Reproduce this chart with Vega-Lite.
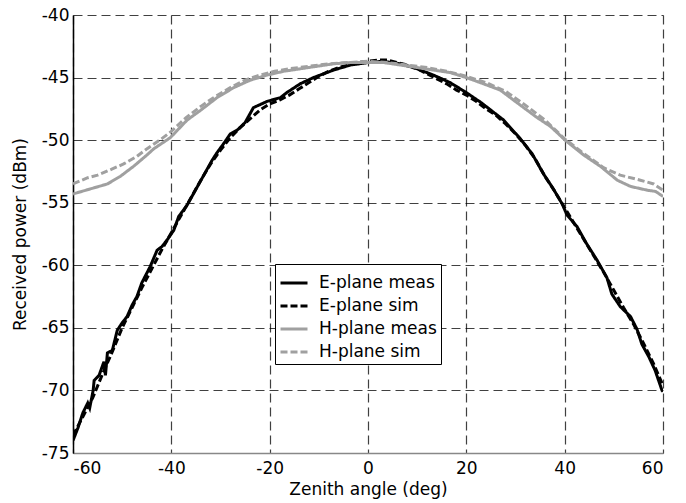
{
  "$schema": "https://vega.github.io/schema/vega-lite/v6.json",
  "width": 590,
  "height": 438,
  "autosize": {"type": "none"},
  "padding": {"left": 73, "top": 15, "right": 23, "bottom": 50},
  "background": "white",
  "config": {
    "view": {"stroke": null},
    "font": "DejaVu Sans"
  },
  "datasets": {
    "curves": [
      {"s": "E-plane meas", "x": -60, "y": -74.0},
      {"s": "E-plane meas", "x": -59, "y": -73.0},
      {"s": "E-plane meas", "x": -58, "y": -71.8},
      {"s": "E-plane meas", "x": -57, "y": -71.0},
      {"s": "E-plane meas", "x": -56.6, "y": -71.4},
      {"s": "E-plane meas", "x": -55.9, "y": -70.0},
      {"s": "E-plane meas", "x": -55.7, "y": -69.2},
      {"s": "E-plane meas", "x": -54.7, "y": -68.8},
      {"s": "E-plane meas", "x": -53.7, "y": -67.7},
      {"s": "E-plane meas", "x": -53.4, "y": -68.8},
      {"s": "E-plane meas", "x": -53.0, "y": -67.0},
      {"s": "E-plane meas", "x": -52, "y": -66.8},
      {"s": "E-plane meas", "x": -51, "y": -65.2},
      {"s": "E-plane meas", "x": -50, "y": -64.6},
      {"s": "E-plane meas", "x": -49, "y": -64.1},
      {"s": "E-plane meas", "x": -48, "y": -63.2},
      {"s": "E-plane meas", "x": -47, "y": -62.5},
      {"s": "E-plane meas", "x": -46, "y": -61.4},
      {"s": "E-plane meas", "x": -44.3, "y": -60.1},
      {"s": "E-plane meas", "x": -42.9, "y": -58.8},
      {"s": "E-plane meas", "x": -41.9, "y": -58.5},
      {"s": "E-plane meas", "x": -40.9, "y": -58.0},
      {"s": "E-plane meas", "x": -39.5, "y": -57.2},
      {"s": "E-plane meas", "x": -38.5, "y": -56.1},
      {"s": "E-plane meas", "x": -36.8, "y": -55.2},
      {"s": "E-plane meas", "x": -35.1, "y": -54.0},
      {"s": "E-plane meas", "x": -33.4, "y": -52.8},
      {"s": "E-plane meas", "x": -31.7, "y": -51.6},
      {"s": "E-plane meas", "x": -30.7, "y": -51.0},
      {"s": "E-plane meas", "x": -29.4, "y": -50.3},
      {"s": "E-plane meas", "x": -28, "y": -49.5},
      {"s": "E-plane meas", "x": -26.6, "y": -49.2},
      {"s": "E-plane meas", "x": -25, "y": -48.6},
      {"s": "E-plane meas", "x": -23.3, "y": -47.4},
      {"s": "E-plane meas", "x": -20.5, "y": -46.9},
      {"s": "E-plane meas", "x": -17.8, "y": -46.6},
      {"s": "E-plane meas", "x": -16.5, "y": -46.2},
      {"s": "E-plane meas", "x": -13.8, "y": -45.5},
      {"s": "E-plane meas", "x": -11.1, "y": -45.0},
      {"s": "E-plane meas", "x": -7, "y": -44.4},
      {"s": "E-plane meas", "x": -3.6, "y": -44.0},
      {"s": "E-plane meas", "x": 0, "y": -43.8},
      {"s": "E-plane meas", "x": 3, "y": -43.7},
      {"s": "E-plane meas", "x": 6.6, "y": -43.9},
      {"s": "E-plane meas", "x": 10, "y": -44.3},
      {"s": "E-plane meas", "x": 13.3, "y": -44.8},
      {"s": "E-plane meas", "x": 16.7, "y": -45.4},
      {"s": "E-plane meas", "x": 20, "y": -46.2},
      {"s": "E-plane meas", "x": 23, "y": -47.0},
      {"s": "E-plane meas", "x": 27.6, "y": -48.4},
      {"s": "E-plane meas", "x": 31, "y": -49.9},
      {"s": "E-plane meas", "x": 33.4, "y": -51.1},
      {"s": "E-plane meas", "x": 35.7, "y": -52.7},
      {"s": "E-plane meas", "x": 37.7, "y": -53.9},
      {"s": "E-plane meas", "x": 39.5, "y": -55.1},
      {"s": "E-plane meas", "x": 40.5, "y": -56.0},
      {"s": "E-plane meas", "x": 42.5, "y": -56.9},
      {"s": "E-plane meas", "x": 44.5, "y": -58.3},
      {"s": "E-plane meas", "x": 46.6, "y": -59.6},
      {"s": "E-plane meas", "x": 48.6, "y": -61.0},
      {"s": "E-plane meas", "x": 49.6, "y": -62.3},
      {"s": "E-plane meas", "x": 51.3, "y": -63.3},
      {"s": "E-plane meas", "x": 53.4, "y": -64.1},
      {"s": "E-plane meas", "x": 54.7, "y": -65.1},
      {"s": "E-plane meas", "x": 55.7, "y": -66.3},
      {"s": "E-plane meas", "x": 57.1, "y": -67.3},
      {"s": "E-plane meas", "x": 58.4, "y": -68.4},
      {"s": "E-plane meas", "x": 59.8, "y": -70.0},
      {"s": "E-plane meas", "x": 60, "y": -70.1},

      {"s": "E-plane sim", "x": -60, "y": -73.6},
      {"s": "E-plane sim", "x": -58, "y": -72.1},
      {"s": "E-plane sim", "x": -56, "y": -70.6},
      {"s": "E-plane sim", "x": -54, "y": -68.7},
      {"s": "E-plane sim", "x": -52, "y": -66.9},
      {"s": "E-plane sim", "x": -50, "y": -65.0},
      {"s": "E-plane sim", "x": -48, "y": -63.4},
      {"s": "E-plane sim", "x": -46, "y": -61.8},
      {"s": "E-plane sim", "x": -44, "y": -60.3},
      {"s": "E-plane sim", "x": -42, "y": -58.8},
      {"s": "E-plane sim", "x": -40, "y": -57.4},
      {"s": "E-plane sim", "x": -38, "y": -56.0},
      {"s": "E-plane sim", "x": -36, "y": -54.6},
      {"s": "E-plane sim", "x": -34, "y": -53.2},
      {"s": "E-plane sim", "x": -32, "y": -51.9},
      {"s": "E-plane sim", "x": -30, "y": -50.8},
      {"s": "E-plane sim", "x": -28, "y": -49.8},
      {"s": "E-plane sim", "x": -26, "y": -49.0},
      {"s": "E-plane sim", "x": -24, "y": -48.3},
      {"s": "E-plane sim", "x": -22, "y": -47.6},
      {"s": "E-plane sim", "x": -20, "y": -47.1},
      {"s": "E-plane sim", "x": -18, "y": -46.8},
      {"s": "E-plane sim", "x": -16, "y": -46.4},
      {"s": "E-plane sim", "x": -14, "y": -45.9},
      {"s": "E-plane sim", "x": -12, "y": -45.4},
      {"s": "E-plane sim", "x": -10, "y": -44.9},
      {"s": "E-plane sim", "x": -8, "y": -44.5},
      {"s": "E-plane sim", "x": -6, "y": -44.2},
      {"s": "E-plane sim", "x": -4, "y": -44.0},
      {"s": "E-plane sim", "x": -2, "y": -43.8},
      {"s": "E-plane sim", "x": 0, "y": -43.7},
      {"s": "E-plane sim", "x": 2, "y": -43.6},
      {"s": "E-plane sim", "x": 4, "y": -43.6},
      {"s": "E-plane sim", "x": 6, "y": -43.8},
      {"s": "E-plane sim", "x": 8, "y": -44.0},
      {"s": "E-plane sim", "x": 10, "y": -44.3},
      {"s": "E-plane sim", "x": 12, "y": -44.7},
      {"s": "E-plane sim", "x": 14, "y": -45.1},
      {"s": "E-plane sim", "x": 16, "y": -45.5},
      {"s": "E-plane sim", "x": 18, "y": -46.0},
      {"s": "E-plane sim", "x": 20, "y": -46.4},
      {"s": "E-plane sim", "x": 22, "y": -46.9},
      {"s": "E-plane sim", "x": 24, "y": -47.5},
      {"s": "E-plane sim", "x": 26, "y": -48.0},
      {"s": "E-plane sim", "x": 28, "y": -48.7},
      {"s": "E-plane sim", "x": 30, "y": -49.5},
      {"s": "E-plane sim", "x": 32, "y": -50.4},
      {"s": "E-plane sim", "x": 34, "y": -51.5},
      {"s": "E-plane sim", "x": 36, "y": -52.9},
      {"s": "E-plane sim", "x": 38, "y": -54.1},
      {"s": "E-plane sim", "x": 40, "y": -55.4},
      {"s": "E-plane sim", "x": 42, "y": -56.7},
      {"s": "E-plane sim", "x": 44, "y": -58.0},
      {"s": "E-plane sim", "x": 46, "y": -59.3},
      {"s": "E-plane sim", "x": 48, "y": -60.6},
      {"s": "E-plane sim", "x": 50, "y": -62.0},
      {"s": "E-plane sim", "x": 52, "y": -63.4},
      {"s": "E-plane sim", "x": 54, "y": -64.7},
      {"s": "E-plane sim", "x": 56, "y": -66.2},
      {"s": "E-plane sim", "x": 58, "y": -67.8},
      {"s": "E-plane sim", "x": 60, "y": -69.6},

      {"s": "H-plane meas", "x": -60, "y": -54.3},
      {"s": "H-plane meas", "x": -56.5, "y": -53.9},
      {"s": "H-plane meas", "x": -53, "y": -53.5},
      {"s": "H-plane meas", "x": -50.4, "y": -52.9},
      {"s": "H-plane meas", "x": -47.7, "y": -52.1},
      {"s": "H-plane meas", "x": -45, "y": -51.2},
      {"s": "H-plane meas", "x": -43.6, "y": -50.7},
      {"s": "H-plane meas", "x": -40.2, "y": -49.8},
      {"s": "H-plane meas", "x": -36.8, "y": -48.4},
      {"s": "H-plane meas", "x": -34, "y": -47.6},
      {"s": "H-plane meas", "x": -30.7, "y": -46.6},
      {"s": "H-plane meas", "x": -27.3, "y": -45.8},
      {"s": "H-plane meas", "x": -23.9, "y": -45.2},
      {"s": "H-plane meas", "x": -20.5, "y": -44.8},
      {"s": "H-plane meas", "x": -17.2, "y": -44.5},
      {"s": "H-plane meas", "x": -13.8, "y": -44.3},
      {"s": "H-plane meas", "x": -10.4, "y": -44.1},
      {"s": "H-plane meas", "x": -7, "y": -43.9},
      {"s": "H-plane meas", "x": -3.6, "y": -43.8},
      {"s": "H-plane meas", "x": 0, "y": -43.8},
      {"s": "H-plane meas", "x": 3.2, "y": -43.8},
      {"s": "H-plane meas", "x": 6.6, "y": -44.0},
      {"s": "H-plane meas", "x": 10, "y": -44.2},
      {"s": "H-plane meas", "x": 13.3, "y": -44.4},
      {"s": "H-plane meas", "x": 16.7, "y": -44.6},
      {"s": "H-plane meas", "x": 20, "y": -45.0},
      {"s": "H-plane meas", "x": 23.5, "y": -45.5},
      {"s": "H-plane meas", "x": 26.9, "y": -46.0},
      {"s": "H-plane meas", "x": 29.6, "y": -46.8},
      {"s": "H-plane meas", "x": 34.4, "y": -48.2},
      {"s": "H-plane meas", "x": 37.1, "y": -48.9},
      {"s": "H-plane meas", "x": 40.1, "y": -50.0},
      {"s": "H-plane meas", "x": 43.9, "y": -51.2},
      {"s": "H-plane meas", "x": 47.3, "y": -52.1},
      {"s": "H-plane meas", "x": 50.7, "y": -53.2},
      {"s": "H-plane meas", "x": 53.4, "y": -53.7},
      {"s": "H-plane meas", "x": 56.8, "y": -54.0},
      {"s": "H-plane meas", "x": 58.5, "y": -54.1},
      {"s": "H-plane meas", "x": 60, "y": -54.5},

      {"s": "H-plane sim", "x": -60, "y": -53.5},
      {"s": "H-plane sim", "x": -57, "y": -53.0},
      {"s": "H-plane sim", "x": -55, "y": -52.8},
      {"s": "H-plane sim", "x": -52, "y": -52.3},
      {"s": "H-plane sim", "x": -49.7, "y": -51.9},
      {"s": "H-plane sim", "x": -47, "y": -51.3},
      {"s": "H-plane sim", "x": -45, "y": -50.7},
      {"s": "H-plane sim", "x": -42, "y": -49.9},
      {"s": "H-plane sim", "x": -40, "y": -49.3},
      {"s": "H-plane sim", "x": -37, "y": -48.2},
      {"s": "H-plane sim", "x": -34, "y": -47.3},
      {"s": "H-plane sim", "x": -31, "y": -46.5},
      {"s": "H-plane sim", "x": -28, "y": -45.8},
      {"s": "H-plane sim", "x": -25, "y": -45.2},
      {"s": "H-plane sim", "x": -22, "y": -44.8},
      {"s": "H-plane sim", "x": -19, "y": -44.5},
      {"s": "H-plane sim", "x": -16, "y": -44.3},
      {"s": "H-plane sim", "x": -12, "y": -44.1},
      {"s": "H-plane sim", "x": -8, "y": -43.9},
      {"s": "H-plane sim", "x": -4, "y": -43.8},
      {"s": "H-plane sim", "x": 0, "y": -43.7},
      {"s": "H-plane sim", "x": 4, "y": -43.8},
      {"s": "H-plane sim", "x": 8, "y": -44.0},
      {"s": "H-plane sim", "x": 12, "y": -44.2},
      {"s": "H-plane sim", "x": 16, "y": -44.5},
      {"s": "H-plane sim", "x": 20, "y": -44.9},
      {"s": "H-plane sim", "x": 24, "y": -45.4},
      {"s": "H-plane sim", "x": 28, "y": -46.1},
      {"s": "H-plane sim", "x": 32, "y": -47.2},
      {"s": "H-plane sim", "x": 36, "y": -48.4},
      {"s": "H-plane sim", "x": 40, "y": -49.9},
      {"s": "H-plane sim", "x": 44, "y": -51.1},
      {"s": "H-plane sim", "x": 47.9, "y": -52.2},
      {"s": "H-plane sim", "x": 51.3, "y": -52.8},
      {"s": "H-plane sim", "x": 55.4, "y": -53.2},
      {"s": "H-plane sim", "x": 58.1, "y": -53.5},
      {"s": "H-plane sim", "x": 60, "y": -54.0}
    ]
  },
  "data": {"name": "curves"},
  "mark": {"type": "line", "strokeWidth": 3, "clip": true},
  "encoding": {
    "x": {
      "field": "x", "type": "quantitative",
      "scale": {"domain": [-60, 60], "nice": false, "zero": false},
      "axis": {
        "values": [-60, -40, -20, 0, 20, 40, 60],
        "labelExpr": "toString(datum.value)",
        "title": "Zenith angle (deg)",
        "titleFont": "DejaVu Sans", "titleFontSize": 17, "titleFontWeight": "normal", "titleColor": "#000",
        "titlePadding": 5,
        "labelFont": "DejaVu Sans", "labelFontSize": 17, "labelColor": "#000",
        "labelPadding": 7, "ticks": false,
        "domainColor": "#888", "domainWidth": 1.5,
        "grid": true, "gridColor": "#000", "gridOpacity": 0.75, "gridDash": [9, 5], "gridWidth": 1.2
      }
    },
    "y": {
      "field": "y", "type": "quantitative",
      "scale": {"domain": [-75, -40], "nice": false, "zero": false},
      "axis": {
        "values": [-75, -70, -65, -60, -55, -50, -45, -40],
        "labelExpr": "toString(datum.value)",
        "title": "Received power (dBm)",
        "titleFont": "DejaVu Sans", "titleFontSize": 17, "titleFontWeight": "normal", "titleColor": "#000",
        "titlePadding": 12,
        "labelFont": "DejaVu Sans", "labelFontSize": 17, "labelColor": "#000",
        "labelPadding": 4, "ticks": false,
        "domainColor": "#000", "domainWidth": 1.5,
        "grid": true, "gridColor": "#000", "gridOpacity": 0.75, "gridDash": [9, 5], "gridWidth": 1.2
      }
    },
    "color": {
      "field": "s", "type": "nominal",
      "scale": {
        "domain": ["E-plane meas", "E-plane sim", "H-plane meas", "H-plane sim"],
        "range": ["#000000", "#000000", "#a0a0a0", "#a0a0a0"]
      },
      "legend": {
        "title": null, "orient": "none", "legendX": 202, "legendY": 249,
        "symbolType": "stroke", "symbolSize": 729, "symbolStrokeWidth": 3,
        "labelFont": "DejaVu Sans", "labelFontSize": 17, "labelColor": "#000",
        "fillColor": "white", "strokeColor": "#000", "padding": 4,
        "rowPadding": 0, "labelOffset": 10
      }
    },
    "strokeDash": {
      "field": "s", "type": "nominal",
      "scale": {
        "domain": ["E-plane meas", "E-plane sim", "H-plane meas", "H-plane sim"],
        "range": [[1, 0], [7, 3], [1, 0], [7, 3]]
      },
      "legend": {
        "title": null, "orient": "none", "legendX": 202, "legendY": 249,
        "symbolType": "stroke", "symbolSize": 729, "symbolStrokeWidth": 3,
        "labelFont": "DejaVu Sans", "labelFontSize": 17, "labelColor": "#000",
        "fillColor": "white", "strokeColor": "#000", "padding": 4,
        "rowPadding": 0, "labelOffset": 10
      }
    }
  }
}
